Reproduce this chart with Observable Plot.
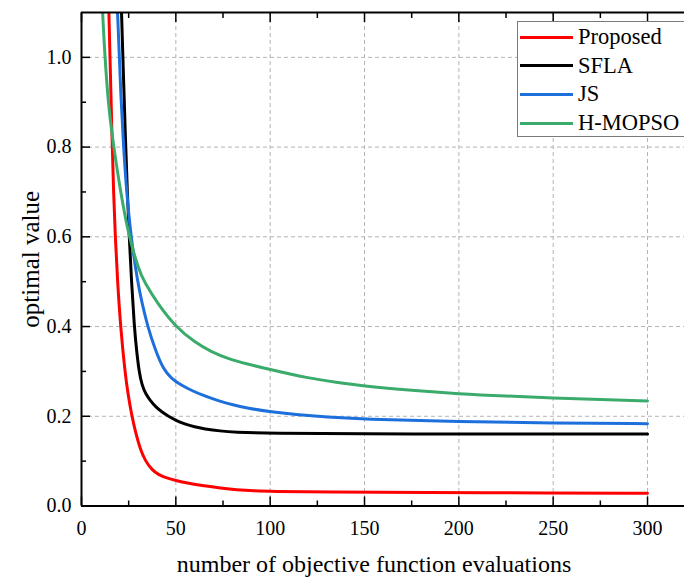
<!DOCTYPE html>
<html><head><meta charset="utf-8">
<script src="https://cdn.jsdelivr.net/npm/d3@7"></script>
<script src="https://cdn.jsdelivr.net/npm/@observablehq/plot@0.6"></script>
<style>
body{margin:0;background:#fff;}
#wrap{position:relative;width:684px;height:577px;overflow:hidden;font-family:"Liberation Serif","Times New Roman",serif;}
#legend{position:absolute;left:517px;top:21px;width:190px;height:116px;border:1.5px solid #7a7a7a;background:#fff;box-sizing:border-box;}
.item{position:absolute;left:2px;height:28px;display:flex;align-items:center;font-size:22.5px;color:#000;white-space:nowrap;}
.swatch{width:53px;height:3px;margin-right:5px;}
</style></head><body><div id="wrap"></div>
<script>
const seriesNames = ["Proposed", "SFLA", "JS", "H-MOPSO"];
const seriesColors = ["#ff0000", "#000000", "#1d6fdc", "#3bab6b"];

// [number of evaluations, optimal value]
const proposed = [[13.4,1.3],[14.5,1.1],[16.3,0.8],[17.0,0.7],[17.9,0.6],[19.1,0.5],[20.7,0.4],[23.0,0.3],[24.6,0.25],[26.7,0.2],[28.9,0.16],[30.9,0.13],[33.8,0.1],[37.5,0.08],[40.8,0.07],[44.5,0.063],[50,0.057],[56,0.051],[63.5,0.046],[74,0.04],[82,0.036],[92,0.0335],[100,0.0323],[130,0.031],[180,0.030],[250,0.029],[300,0.0286]];
const sfla = [[19.8,1.3],[21.2,1.1],[23.4,0.8],[24.3,0.7],[25.3,0.6],[26.5,0.5],[28.0,0.4],[29.1,0.35],[30.5,0.3],[32,0.27],[34,0.25],[36.5,0.235],[39.5,0.22],[42.5,0.21],[46,0.2],[50.5,0.19],[54.5,0.183],[60,0.176],[65,0.172],[73.7,0.167],[80.7,0.1646],[100,0.1617],[150,0.1608],[200,0.1605],[250,0.1605],[300,0.1605]];
const js = [[17.6,1.3],[19.0,1.1],[21.0,0.9],[22.3,0.8],[23.9,0.7],[26.2,0.6],[29.7,0.5],[32.2,0.45],[35.1,0.4],[38.9,0.35],[43.3,0.305],[47.5,0.285],[52.5,0.27],[59,0.256],[66,0.244],[73.5,0.233],[80,0.226],[88,0.218],[100,0.21],[123,0.2],[150,0.193],[200,0.188],[250,0.185],[300,0.1835]];
const hmopso = [[9.3,1.3],[11.0,1.1],[13.9,0.9],[17.1,0.8],[20.7,0.7],[25.1,0.6],[30.5,0.525],[33.2,0.5],[40.5,0.45],[49.8,0.4],[60,0.365],[69,0.343],[78,0.328],[87.5,0.317],[100,0.304],[120,0.285],[135,0.276],[150,0.267],[175,0.2575],[200,0.25],[225,0.245],[250,0.241],[275,0.237],[300,0.234]];

const xTicks = [0, 50, 100, 150, 200, 250, 300];
const xMinorTicks = [25, 75, 125, 175, 225, 275];
const yTicks = [0, 0.2, 0.4, 0.6, 0.8, 1.0];
const yMinorTicks = [0.1, 0.3, 0.5, 0.7, 0.9];
const xDomain = [0, 319.6];
const yDomain = [0, 1.1];
const xLabel = "number of objective function evaluations";
const yLabel = "optimal value";

const seriesData = [proposed, sfla, js, hmopso];
const rows = seriesData.flatMap((pts, i) => pts.map(([x, y]) => ({series: seriesNames[i], x, y})));
const blank = () => "";

const chart = Plot.plot({
  width: 684, height: 577,
  marginLeft: 81, marginRight: 0, marginTop: 12, marginBottom: 71.5,
  style: "font-family: 'Liberation Serif', serif; font-size: 20px; color: #000; background: #fff;",
  x: {domain: xDomain},
  y: {domain: yDomain},
  color: {domain: seriesNames, range: seriesColors},
  marks: [
    Plot.gridX(xTicks.filter(d => d > 0), {stroke: "#b4b4b4", strokeOpacity: 1, strokeDasharray: "4,3"}),
    Plot.gridY(yTicks.filter(d => d > 0), {stroke: "#b4b4b4", strokeOpacity: 1, strokeDasharray: "4,3"}),
    Plot.line(rows, {x: "x", y: "y", z: "series", stroke: "series", strokeWidth: 3, curve: "basis", clip: true}),
    Plot.ruleX([xDomain[0]], {stroke: "#000", strokeWidth: 2}),
    Plot.ruleY([yDomain[0], yDomain[1]], {stroke: "#000", strokeWidth: 2}),
    Plot.axisX(xTicks, {anchor: "bottom", tickSize: -9, tickPadding: 24, strokeWidth: 1.5, fontSize: 20, label: null}),
    Plot.axisX(xMinorTicks, {anchor: "bottom", tickSize: -5, strokeWidth: 1.5, tickFormat: blank, label: null}),
    Plot.axisX(xTicks, {anchor: "top", tickSize: -9, strokeWidth: 1.5, tickFormat: blank, label: null}),
    Plot.axisX(xMinorTicks, {anchor: "top", tickSize: -5, strokeWidth: 1.5, tickFormat: blank, label: null}),
    Plot.axisY(yTicks, {anchor: "left", tickSize: -9, tickPadding: 19, strokeWidth: 1.5, tickFormat: d3.format(".1f"), fontSize: 20, label: null}),
    Plot.axisY(yMinorTicks, {anchor: "left", tickSize: -5, strokeWidth: 1.5, tickFormat: blank, label: null}),
    Plot.text([xLabel], {frameAnchor: "bottom", lineAnchor: "middle", textAnchor: "middle", dy: 58, dx: -9, fontSize: 24}),
    Plot.text([yLabel], {frameAnchor: "left", rotate: -90, textAnchor: "middle", lineAnchor: "middle", dx: -51, fontSize: 25})
  ]
});

const wrap = document.getElementById("wrap");
wrap.appendChild(chart);

const legend = document.createElement("div");
legend.id = "legend";
seriesNames.forEach((name, i) => {
  const item = document.createElement("div");
  item.className = "item";
  item.style.top = (1 + i * 28.7) + "px";
  const sw = document.createElement("span");
  sw.className = "swatch";
  sw.style.background = seriesColors[i];
  const tx = document.createElement("span");
  tx.textContent = name;
  item.appendChild(sw);
  item.appendChild(tx);
  legend.appendChild(item);
});
wrap.appendChild(legend);
</script></body></html>
